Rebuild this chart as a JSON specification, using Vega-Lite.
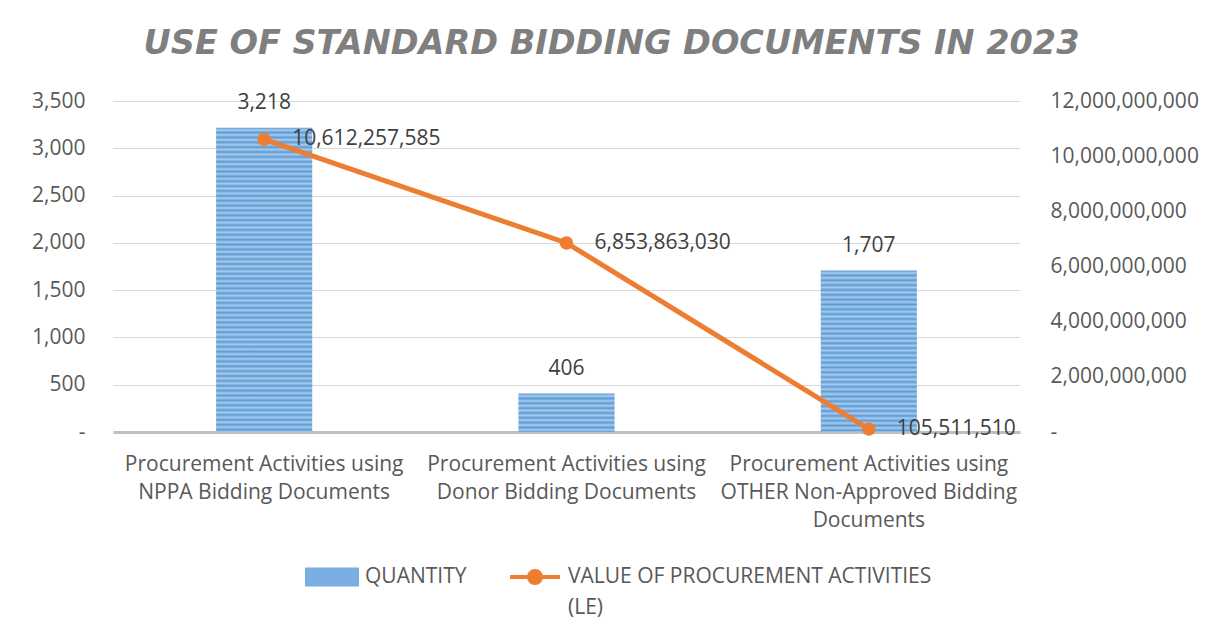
{
  "$schema": "https://vega.github.io/schema/vega-lite/v6.json",
  "autosize": {"type": "none"},
  "width": 907,
  "height": 331,
  "padding": {"left": 113, "top": 101, "right": 191, "bottom": 200},
  "background": "white",
  "config": {"view": {"stroke": null}, "font": "Open Sans"},
  "title": {
    "text": "USE OF STANDARD BIDDING DOCUMENTS IN 2023",
    "font": "DejaVu Sans",
    "fontSize": 33.5,
    "fontWeight": "bold",
    "fontStyle": "italic",
    "color": "#7f7f7f",
    "anchor": "middle",
    "frame": "group",
    "baseline": "alphabetic",
    "offset": 3,
    "dx": 45
  },
  "data": {
    "values": [
      {"category": "Procurement Activities using|NPPA Bidding Documents", "quantity": 3218, "value": 10612257585},
      {"category": "Procurement Activities using|Donor Bidding Documents", "quantity": 406, "value": 6853863030},
      {"category": "Procurement Activities using|OTHER Non-Approved Bidding|Documents", "quantity": 1707, "value": 105511510}
    ]
  },
  "encoding": {
    "x": {
      "field": "category",
      "type": "nominal",
      "sort": null,
      "scale": {"paddingInner": 0.682, "paddingOuter": 0.341},
      "axis": {
        "title": null,
        "labelExpr": "split(datum.label, '|')",
        "labelAngle": 0,
        "labelFontSize": 21,
        "labelColor": "#595959",
        "labelLineHeight": 28,
        "labelPadding": 21,
        "labelLimit": 400,
        "labelBaseline": "top",
        "ticks": false,
        "domainColor": "#bfbfbf",
        "domainWidth": 3
      }
    }
  },
  "layer": [
    {
      "layer": [
        {
          "mark": {"type": "bar"},
          "encoding": {
            "y": {
              "field": "quantity",
              "type": "quantitative",
              "scale": {"domain": [0, 3500], "nice": false},
              "axis": {
                "title": null,
                "orient": "left",
                "values": [0, 500, 1000, 1500, 2000, 2500, 3000, 3500],
                "labelExpr": "datum.value === 0 ? '-' : format(datum.value, ',')",
                "grid": true,
                "gridColor": "#d9d9d9",
                "domain": false,
                "ticks": false,
                "labelPadding": 28,
                "labelFontSize": 21,
                "labelColor": "#595959"
              }
            },
            "fill": {
              "condition": [
                {"test": "datum.quantity > 3000", "value": {"gradient": "linear", "x1": 0, "y1": 0, "x2": 0, "y2": 1, "stops": [
                  {"offset": 0, "color": "#5b9bd5"}, {"offset": 0.008, "color": "#a9cbed"}, {"offset": 0.016, "color": "#5b9bd5"}, {"offset": 0.024, "color": "#a9cbed"}, {"offset": 0.032, "color": "#5b9bd5"}, {"offset": 0.04, "color": "#a9cbed"}, {"offset": 0.048, "color": "#5b9bd5"}, {"offset": 0.056, "color": "#a9cbed"}, {"offset": 0.064, "color": "#5b9bd5"}, {"offset": 0.072, "color": "#a9cbed"},
                  {"offset": 0.08, "color": "#5b9bd5"}, {"offset": 0.088, "color": "#a9cbed"}, {"offset": 0.096, "color": "#5b9bd5"}, {"offset": 0.104, "color": "#a9cbed"}, {"offset": 0.112, "color": "#5b9bd5"}, {"offset": 0.12, "color": "#a9cbed"}, {"offset": 0.128, "color": "#5b9bd5"}, {"offset": 0.136, "color": "#a9cbed"}, {"offset": 0.144, "color": "#5b9bd5"}, {"offset": 0.152, "color": "#a9cbed"},
                  {"offset": 0.16, "color": "#5b9bd5"}, {"offset": 0.168, "color": "#a9cbed"}, {"offset": 0.176, "color": "#5b9bd5"}, {"offset": 0.184, "color": "#a9cbed"}, {"offset": 0.192, "color": "#5b9bd5"}, {"offset": 0.2, "color": "#a9cbed"}, {"offset": 0.208, "color": "#5b9bd5"}, {"offset": 0.216, "color": "#a9cbed"}, {"offset": 0.224, "color": "#5b9bd5"}, {"offset": 0.232, "color": "#a9cbed"},
                  {"offset": 0.24, "color": "#5b9bd5"}, {"offset": 0.248, "color": "#a9cbed"}, {"offset": 0.256, "color": "#5b9bd5"}, {"offset": 0.264, "color": "#a9cbed"}, {"offset": 0.272, "color": "#5b9bd5"}, {"offset": 0.28, "color": "#a9cbed"}, {"offset": 0.288, "color": "#5b9bd5"}, {"offset": 0.296, "color": "#a9cbed"}, {"offset": 0.304, "color": "#5b9bd5"}, {"offset": 0.312, "color": "#a9cbed"},
                  {"offset": 0.32, "color": "#5b9bd5"}, {"offset": 0.328, "color": "#a9cbed"}, {"offset": 0.336, "color": "#5b9bd5"}, {"offset": 0.344, "color": "#a9cbed"}, {"offset": 0.352, "color": "#5b9bd5"}, {"offset": 0.36, "color": "#a9cbed"}, {"offset": 0.368, "color": "#5b9bd5"}, {"offset": 0.376, "color": "#a9cbed"}, {"offset": 0.384, "color": "#5b9bd5"}, {"offset": 0.392, "color": "#a9cbed"},
                  {"offset": 0.4, "color": "#5b9bd5"}, {"offset": 0.408, "color": "#a9cbed"}, {"offset": 0.416, "color": "#5b9bd5"}, {"offset": 0.424, "color": "#a9cbed"}, {"offset": 0.432, "color": "#5b9bd5"}, {"offset": 0.44, "color": "#a9cbed"}, {"offset": 0.448, "color": "#5b9bd5"}, {"offset": 0.456, "color": "#a9cbed"}, {"offset": 0.464, "color": "#5b9bd5"}, {"offset": 0.472, "color": "#a9cbed"},
                  {"offset": 0.48, "color": "#5b9bd5"}, {"offset": 0.488, "color": "#a9cbed"}, {"offset": 0.496, "color": "#5b9bd5"}, {"offset": 0.504, "color": "#a9cbed"}, {"offset": 0.512, "color": "#5b9bd5"}, {"offset": 0.52, "color": "#a9cbed"}, {"offset": 0.528, "color": "#5b9bd5"}, {"offset": 0.536, "color": "#a9cbed"}, {"offset": 0.544, "color": "#5b9bd5"}, {"offset": 0.552, "color": "#a9cbed"},
                  {"offset": 0.56, "color": "#5b9bd5"}, {"offset": 0.568, "color": "#a9cbed"}, {"offset": 0.576, "color": "#5b9bd5"}, {"offset": 0.584, "color": "#a9cbed"}, {"offset": 0.592, "color": "#5b9bd5"}, {"offset": 0.6, "color": "#a9cbed"}, {"offset": 0.608, "color": "#5b9bd5"}, {"offset": 0.616, "color": "#a9cbed"}, {"offset": 0.624, "color": "#5b9bd5"}, {"offset": 0.632, "color": "#a9cbed"},
                  {"offset": 0.64, "color": "#5b9bd5"}, {"offset": 0.648, "color": "#a9cbed"}, {"offset": 0.656, "color": "#5b9bd5"}, {"offset": 0.664, "color": "#a9cbed"}, {"offset": 0.672, "color": "#5b9bd5"}, {"offset": 0.68, "color": "#a9cbed"}, {"offset": 0.688, "color": "#5b9bd5"}, {"offset": 0.696, "color": "#a9cbed"}, {"offset": 0.704, "color": "#5b9bd5"}, {"offset": 0.712, "color": "#a9cbed"},
                  {"offset": 0.72, "color": "#5b9bd5"}, {"offset": 0.728, "color": "#a9cbed"}, {"offset": 0.736, "color": "#5b9bd5"}, {"offset": 0.744, "color": "#a9cbed"}, {"offset": 0.752, "color": "#5b9bd5"}, {"offset": 0.76, "color": "#a9cbed"}, {"offset": 0.768, "color": "#5b9bd5"}, {"offset": 0.776, "color": "#a9cbed"}, {"offset": 0.784, "color": "#5b9bd5"}, {"offset": 0.792, "color": "#a9cbed"},
                  {"offset": 0.8, "color": "#5b9bd5"}, {"offset": 0.808, "color": "#a9cbed"}, {"offset": 0.816, "color": "#5b9bd5"}, {"offset": 0.824, "color": "#a9cbed"}, {"offset": 0.832, "color": "#5b9bd5"}, {"offset": 0.84, "color": "#a9cbed"}, {"offset": 0.848, "color": "#5b9bd5"}, {"offset": 0.856, "color": "#a9cbed"}, {"offset": 0.864, "color": "#5b9bd5"}, {"offset": 0.872, "color": "#a9cbed"},
                  {"offset": 0.88, "color": "#5b9bd5"}, {"offset": 0.888, "color": "#a9cbed"}, {"offset": 0.896, "color": "#5b9bd5"}, {"offset": 0.904, "color": "#a9cbed"}, {"offset": 0.912, "color": "#5b9bd5"}, {"offset": 0.92, "color": "#a9cbed"}, {"offset": 0.928, "color": "#5b9bd5"}, {"offset": 0.936, "color": "#a9cbed"}, {"offset": 0.944, "color": "#5b9bd5"}, {"offset": 0.952, "color": "#a9cbed"},
                  {"offset": 0.96, "color": "#5b9bd5"}, {"offset": 0.968, "color": "#a9cbed"}, {"offset": 0.976, "color": "#5b9bd5"}, {"offset": 0.984, "color": "#a9cbed"}, {"offset": 0.992, "color": "#5b9bd5"}, {"offset": 1, "color": "#a9cbed"}
                ]}},
                {"test": "datum.quantity < 500", "value": {"gradient": "linear", "x1": 0, "y1": 0, "x2": 0, "y2": 1, "stops": [
                  {"offset": 0, "color": "#5b9bd5"}, {"offset": 0.063, "color": "#a9cbed"}, {"offset": 0.126, "color": "#5b9bd5"}, {"offset": 0.189, "color": "#a9cbed"}, {"offset": 0.252, "color": "#5b9bd5"}, {"offset": 0.315, "color": "#a9cbed"}, {"offset": 0.378, "color": "#5b9bd5"}, {"offset": 0.441, "color": "#a9cbed"}, {"offset": 0.504, "color": "#5b9bd5"}, {"offset": 0.567, "color": "#a9cbed"}, {"offset": 0.63, "color": "#5b9bd5"}, {"offset": 0.693, "color": "#a9cbed"}, {"offset": 0.756, "color": "#5b9bd5"}, {"offset": 0.819, "color": "#a9cbed"}, {"offset": 0.882, "color": "#5b9bd5"}, {"offset": 0.945, "color": "#a9cbed"}, {"offset": 1, "color": "#5b9bd5"}
                ]}}
              ],
              "value": {"gradient": "linear", "x1": 0, "y1": 0, "x2": 0, "y2": 1, "stops": [
                {"offset": 0, "color": "#5b9bd5"}, {"offset": 0.015, "color": "#a9cbed"}, {"offset": 0.03, "color": "#5b9bd5"}, {"offset": 0.045, "color": "#a9cbed"}, {"offset": 0.06, "color": "#5b9bd5"}, {"offset": 0.075, "color": "#a9cbed"}, {"offset": 0.09, "color": "#5b9bd5"}, {"offset": 0.105, "color": "#a9cbed"}, {"offset": 0.12, "color": "#5b9bd5"}, {"offset": 0.135, "color": "#a9cbed"},
                {"offset": 0.15, "color": "#5b9bd5"}, {"offset": 0.165, "color": "#a9cbed"}, {"offset": 0.18, "color": "#5b9bd5"}, {"offset": 0.195, "color": "#a9cbed"}, {"offset": 0.21, "color": "#5b9bd5"}, {"offset": 0.225, "color": "#a9cbed"}, {"offset": 0.24, "color": "#5b9bd5"}, {"offset": 0.255, "color": "#a9cbed"}, {"offset": 0.27, "color": "#5b9bd5"}, {"offset": 0.285, "color": "#a9cbed"},
                {"offset": 0.3, "color": "#5b9bd5"}, {"offset": 0.315, "color": "#a9cbed"}, {"offset": 0.33, "color": "#5b9bd5"}, {"offset": 0.345, "color": "#a9cbed"}, {"offset": 0.36, "color": "#5b9bd5"}, {"offset": 0.375, "color": "#a9cbed"}, {"offset": 0.39, "color": "#5b9bd5"}, {"offset": 0.405, "color": "#a9cbed"}, {"offset": 0.42, "color": "#5b9bd5"}, {"offset": 0.435, "color": "#a9cbed"},
                {"offset": 0.45, "color": "#5b9bd5"}, {"offset": 0.465, "color": "#a9cbed"}, {"offset": 0.48, "color": "#5b9bd5"}, {"offset": 0.495, "color": "#a9cbed"}, {"offset": 0.51, "color": "#5b9bd5"}, {"offset": 0.525, "color": "#a9cbed"}, {"offset": 0.54, "color": "#5b9bd5"}, {"offset": 0.555, "color": "#a9cbed"}, {"offset": 0.57, "color": "#5b9bd5"}, {"offset": 0.585, "color": "#a9cbed"},
                {"offset": 0.6, "color": "#5b9bd5"}, {"offset": 0.615, "color": "#a9cbed"}, {"offset": 0.63, "color": "#5b9bd5"}, {"offset": 0.645, "color": "#a9cbed"}, {"offset": 0.66, "color": "#5b9bd5"}, {"offset": 0.675, "color": "#a9cbed"}, {"offset": 0.69, "color": "#5b9bd5"}, {"offset": 0.705, "color": "#a9cbed"}, {"offset": 0.72, "color": "#5b9bd5"}, {"offset": 0.735, "color": "#a9cbed"},
                {"offset": 0.75, "color": "#5b9bd5"}, {"offset": 0.765, "color": "#a9cbed"}, {"offset": 0.78, "color": "#5b9bd5"}, {"offset": 0.795, "color": "#a9cbed"}, {"offset": 0.81, "color": "#5b9bd5"}, {"offset": 0.825, "color": "#a9cbed"}, {"offset": 0.84, "color": "#5b9bd5"}, {"offset": 0.855, "color": "#a9cbed"}, {"offset": 0.87, "color": "#5b9bd5"}, {"offset": 0.885, "color": "#a9cbed"},
                {"offset": 0.9, "color": "#5b9bd5"}, {"offset": 0.915, "color": "#a9cbed"}, {"offset": 0.93, "color": "#5b9bd5"}, {"offset": 0.945, "color": "#a9cbed"}, {"offset": 0.96, "color": "#5b9bd5"}, {"offset": 0.975, "color": "#a9cbed"}, {"offset": 0.99, "color": "#5b9bd5"}, {"offset": 1, "color": "#a9cbed"}
              ]}
            }
          }
        },
        {
          "mark": {"type": "text", "baseline": "alphabetic", "dy": -19, "fontSize": 21, "color": "#404040"},
          "encoding": {
            "y": {"field": "quantity", "type": "quantitative"},
            "text": {"field": "quantity", "type": "quantitative", "format": ","}
          }
        }
      ]
    },
    {
      "layer": [
        {
          "mark": {"type": "line", "strokeWidth": 5, "point": {"filled": true, "size": 180}},
          "encoding": {
            "y": {
              "field": "value",
              "type": "quantitative",
              "scale": {"domain": [0, 12000000000], "nice": false},
              "axis": {
                "title": null,
                "orient": "right",
                "values": [0, 2000000000, 4000000000, 6000000000, 8000000000, 10000000000, 12000000000],
                "labelExpr": "datum.value === 0 ? '-' : format(datum.value, ',')",
                "grid": false,
                "domain": false,
                "ticks": false,
                "labelPadding": 30,
                "labelFontSize": 21,
                "labelColor": "#595959"
              }
            },
            "color": {
              "datum": "VALUE OF PROCUREMENT ACTIVITIES|(LE)",
              "type": "nominal",
              "scale": {
                "domain": ["QUANTITY|", "VALUE OF PROCUREMENT ACTIVITIES|(LE)"],
                "range": ["#7aaee3", "#ed7d31"]
              },
              "legend": {
                "title": null,
                "orient": "none",
                "legendX": 192,
                "legendY": 449,
                "direction": "horizontal",
                "columnPadding": 35,
                "labelFontSize": 21,
                "labelColor": "#595959",
                "labelLimit": 600,
                "labelOffset": 6,
                "symbolSize": 2500,
                "labelExpr": "split(datum.label, '|')",
                "encode": {
                  "labels": {
                    "update": {
                      "lineHeight": {"value": 31}
                    }
                  },
                  "symbols": {
                    "update": {
                      "shape": {"signal": "datum.value === 'QUANTITY|' ? 'M-1,-0.3H1V0.3H-1Z' : 'M-1,0H1M-0.24,0A0.24,0.24,0,1,1,0.24,0A0.24,0.24,0,1,1,-0.24,0Z'"},
                      "fill": [
                        {"test": "datum.value === 'QUANTITY|'", "value": {"gradient": "linear", "x1": 0, "y1": 0, "x2": 0, "y2": 1, "stops": [
                          {"offset": 0, "color": "#a9cbed"}, {"offset": 0.17, "color": "#5b9bd5"}, {"offset": 0.33, "color": "#a9cbed"}, {"offset": 0.5, "color": "#5b9bd5"}, {"offset": 0.67, "color": "#a9cbed"}, {"offset": 0.83, "color": "#5b9bd5"}, {"offset": 1, "color": "#a9cbed"}
                        ]}},
                        {"value": "#ed7d31"}
                      ],
                      "stroke": [
                        {"test": "datum.value === 'QUANTITY|'", "value": "transparent"},
                        {"value": "#ed7d31"}
                      ],
                      "strokeWidth": {"value": 4},
                      "opacity": {"value": 1},
                      "fillOpacity": {"value": 1},
                      "size": {"value": 2500}
                    }
                  }
                }
              }
            }
          }
        },
        {
          "mark": {"type": "text", "align": "left", "baseline": "middle", "dx": 28, "fontSize": 21, "color": "#404040"},
          "encoding": {
            "y": {"field": "value", "type": "quantitative"},
            "text": {"field": "value", "type": "quantitative", "format": ","}
          }
        }
      ]
    }
  ],
  "resolve": {"scale": {"y": "independent"}}
}
